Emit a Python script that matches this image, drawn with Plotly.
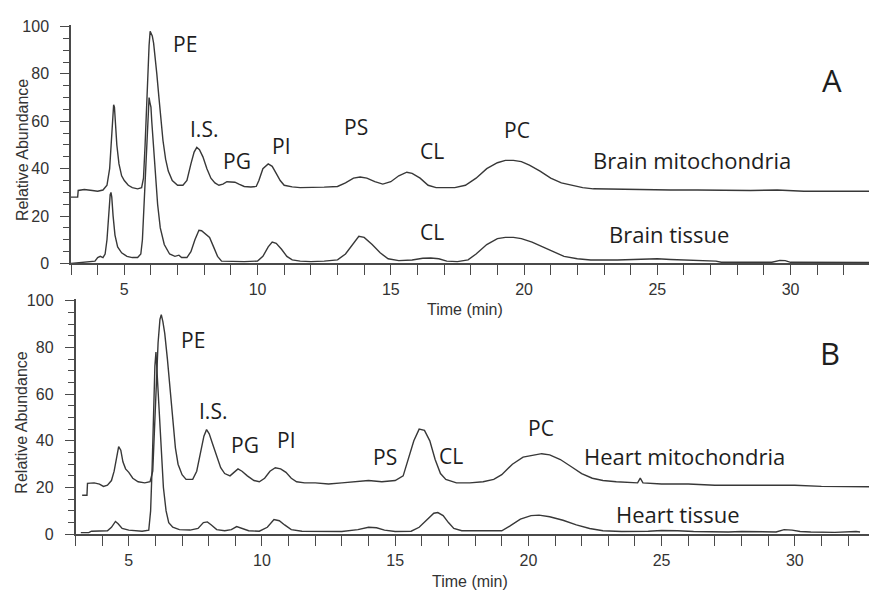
import plotly.graph_objects as go

# ---------------- data ----------------
brain_mito_t = [3.0, 3.25, 3.27, 3.5, 3.8, 4.0, 4.2, 4.35, 4.45, 4.52, 4.57, 4.6, 4.63, 4.66, 4.72, 4.8, 4.9, 5.0, 5.15, 5.3,
                5.5, 5.65, 5.72, 5.78, 5.83, 5.88, 5.93, 5.97, 6.0, 6.05, 6.1, 6.15, 6.22, 6.3, 6.38, 6.45, 6.55, 6.65, 6.8, 7.0,
                7.2, 7.35, 7.5, 7.62, 7.72, 7.82, 7.95, 8.1, 8.25, 8.4, 8.55, 8.7, 8.85, 9.0, 9.15, 9.3, 9.5, 9.75, 9.95, 10.05,
                10.2, 10.4, 10.55, 10.7, 10.85, 11.0, 11.3, 11.6, 12.0, 12.5, 13.0, 13.3, 13.6, 13.85, 14.1, 14.4, 14.7, 15.0, 15.3, 15.6,
                15.8, 16.1, 16.4, 16.7, 17.0, 17.4, 17.8, 18.2, 18.6, 19.0, 19.3, 19.6, 19.9, 20.2, 20.6, 21.0, 21.4, 21.8, 22.2, 22.6,
                23.5, 24.5, 25.5, 26.5, 27.5, 28.5, 29.5, 30.5, 31.5, 32.5, 33.0]
brain_mito_v = [28.0, 28.0, 30.8, 31.2, 30.8, 30.5, 31.0, 33.0, 40.0, 52.0, 62.0, 67.0, 66.0, 60.0, 50.0, 42.0, 37.0, 35.0, 33.0, 32.0,
                31.5, 32.0, 36.0, 50.0, 65.0, 80.0, 92.0, 98.0, 97.0, 96.0, 93.0, 88.0, 80.0, 70.0, 60.0, 52.0, 44.0, 39.0, 35.0, 33.0,
                33.0, 35.0, 42.0, 47.0, 49.0, 48.0, 45.0, 40.0, 36.0, 34.0, 33.0, 33.5, 34.5, 34.5, 34.3, 33.5, 32.5, 32.3, 32.5, 35.0,
                40.0, 42.0, 41.0, 38.0, 35.0, 33.0, 32.3, 32.0, 32.0, 32.2, 32.5, 34.0, 36.0, 36.5, 36.0, 34.5, 33.5, 34.5, 37.0, 38.5,
                38.0, 36.0, 33.0, 32.0, 32.0, 32.0, 33.0, 36.0, 40.0, 42.5, 43.5, 43.5, 43.0, 41.5, 39.0, 36.0, 34.0, 33.0, 32.0, 31.5,
                31.3, 31.2, 31.0, 31.0, 30.8, 30.8, 31.0, 30.5, 30.5, 30.5, 30.5]

brain_tis_t = [3.0, 3.3, 3.6, 3.9, 4.0, 4.1, 4.2, 4.28, 4.35, 4.42, 4.47, 4.5, 4.53, 4.58, 4.65, 4.75, 4.9, 5.1, 5.3, 5.5,
               5.62, 5.68, 5.75, 5.82, 5.88, 5.93, 5.96, 6.0, 6.03, 6.08, 6.15, 6.25, 6.35, 6.5, 6.7, 6.9, 7.05, 7.15, 7.35, 7.5,
               7.65, 7.8, 7.9, 8.05, 8.2, 8.35, 8.5, 8.65, 9.0, 9.5, 10.0, 10.2, 10.4, 10.55, 10.7, 10.9, 11.1, 11.3, 11.6, 12.0,
               12.5, 13.0, 13.3, 13.55, 13.8, 14.0, 14.3, 14.6, 14.9, 15.3, 15.8, 16.2, 16.5, 16.8, 17.1, 17.5, 17.9, 18.2, 18.6, 19.0,
               19.3, 19.6, 19.9, 20.3, 20.7, 21.1, 21.5, 22.0, 22.5, 23.5, 24.5, 25.0, 25.5, 26.5, 27.2, 27.4, 28.5, 29.3, 29.6, 29.8,
               30.0, 31.0, 33.0]
brain_tis_v = [0.0, 0.3, 0.5, 1.0, 2.5, 3.0, 2.5, 4.0, 10.0, 22.0, 29.0, 30.0, 28.0, 20.0, 12.0, 7.0, 4.5, 3.0, 2.5, 2.5,
               4.0, 10.0, 28.0, 45.0, 60.0, 70.0, 68.0, 66.0, 60.0, 52.0, 40.0, 25.0, 15.0, 8.0, 4.0, 3.0, 3.5, 2.5, 2.5, 5.0,
               10.0, 14.0, 13.8, 12.5, 11.0, 7.0, 3.0, 1.0, 0.8, 0.8, 1.0, 3.0, 7.0, 9.0, 8.5, 6.0, 3.0, 1.5, 1.0, 0.8,
               1.0, 1.5, 4.0, 8.0, 11.5, 11.0, 8.0, 4.5, 2.0, 1.2, 1.5, 2.2, 2.3, 2.0, 1.0, 0.8, 1.5, 4.0, 8.0, 10.5,
               11.0, 11.0, 10.5, 9.0, 7.0, 5.0, 3.0, 2.0, 1.5, 1.5, 2.0, 2.0, 1.7, 1.3, 1.0, 0.5, 0.5, 0.5, 1.3, 1.2,
               0.5, 0.4, 0.4]

heart_mito_t = [3.25, 3.43, 3.45, 3.7, 3.9, 4.05, 4.2, 4.35, 4.45, 4.55, 4.62, 4.7, 4.78, 4.88, 5.0, 5.15, 5.35, 5.6, 5.8, 5.9,
                5.97, 6.03, 6.1, 6.17, 6.22, 6.28, 6.35, 6.45, 6.55, 6.65, 6.75, 6.85, 7.0, 7.15, 7.4, 7.55, 7.7, 7.82, 7.92, 8.02,
                8.15, 8.3, 8.45, 8.6, 8.8, 8.95, 9.1, 9.25, 9.45, 9.7, 9.9, 10.1, 10.3, 10.5, 10.7, 10.9, 11.1, 11.3, 11.6, 12.0,
                12.5, 13.0, 13.5, 14.0, 14.5, 15.0, 15.3, 15.5, 15.7, 15.9, 16.1, 16.3, 16.5, 16.7, 16.9, 17.3, 17.8, 18.3, 18.7, 19.0,
                19.4, 19.8, 20.2, 20.5, 20.8, 21.2, 21.6, 22.0, 22.4, 22.8, 23.3, 23.8, 24.1, 24.2, 24.3, 25.0, 26.0, 27.0, 28.0, 29.0,
                30.0, 31.0, 32.0, 33.0]
heart_mito_v = [16.7, 16.7, 21.8, 22.0, 21.5, 20.5, 21.0, 23.0, 27.0, 34.0, 37.5, 36.0, 31.0, 28.0, 26.5, 24.0, 22.5, 22.0, 22.5, 27.0,
                45.0, 65.0, 82.0, 92.0, 94.0, 91.0, 86.0, 75.0, 62.0, 48.0, 37.0, 30.0, 25.5, 23.5, 23.5, 27.0, 35.0, 42.0, 44.8, 43.0,
                38.5, 33.0, 28.5, 26.0, 25.0, 26.5, 28.0, 27.0, 25.0, 23.0, 22.5, 24.0, 27.0, 28.5, 28.0, 26.5, 24.0, 22.5, 22.0, 22.0,
                21.5, 22.0, 22.5, 23.0, 22.5, 23.0, 25.0, 32.0, 40.0, 45.0, 44.5, 40.0, 32.0, 26.0, 23.5, 22.0, 22.0, 22.5, 23.5, 25.5,
                30.0, 33.0, 34.0, 34.5, 34.0, 32.0, 29.0, 26.0, 24.0, 23.0, 22.5, 22.0, 22.0, 24.0, 22.0, 21.5, 21.5, 21.0, 21.0, 21.0,
                21.0, 20.5, 20.5, 20.3]

heart_tis_t = [3.2, 3.5, 3.6, 4.0, 4.2, 4.35, 4.5, 4.6, 4.75, 5.0, 5.5, 5.75, 5.82, 5.88, 5.93, 5.98, 6.02, 6.06, 6.1, 6.15,
               6.22, 6.3, 6.4, 6.5, 6.65, 6.9, 7.3, 7.6, 7.8, 7.95, 8.1, 8.3, 8.6, 8.85, 9.05, 9.25, 9.5, 9.9, 10.2, 10.45,
               10.65, 10.85, 11.1, 11.5, 12.0, 13.0, 13.6, 14.0, 14.3, 14.6, 15.0, 15.6, 15.9, 16.2, 16.45, 16.6, 16.8, 17.0, 17.2, 17.5,
               18.5, 19.0, 19.3, 19.7, 20.1, 20.4, 20.8, 21.3, 21.8, 22.3, 22.8, 23.5, 24.5, 25.0, 25.6, 26.2, 27.5, 28.0, 29.3, 29.6,
               29.9, 30.2, 30.6, 31.5, 32.3, 32.45]
heart_tis_v = [0.7, 0.7, 1.3, 1.3, 1.5, 3.0, 5.5, 4.5, 2.5, 1.8, 1.3, 1.8, 10.0, 30.0, 55.0, 72.0, 78.0, 70.0, 62.0, 50.0,
               35.0, 20.0, 10.0, 5.0, 3.0, 2.0, 1.8, 2.5, 5.0, 5.3, 4.0, 2.0, 1.5, 2.0, 3.3, 2.5, 1.5, 1.3, 3.0, 6.3,
               5.8, 4.0, 2.0, 1.3, 1.2, 1.2, 2.0, 3.0, 2.8, 1.8, 1.2, 1.3, 3.0, 6.5, 9.0, 9.3, 8.0, 5.0, 2.5, 1.5,
               1.3, 1.5, 3.5, 6.5, 8.0, 8.2, 7.5, 6.0, 4.0, 2.5, 1.5, 1.2, 1.3, 1.6, 1.5, 1.2, 1.0, 1.2, 1.0, 2.0,
               1.8, 1.2, 1.0, 0.8, 1.2, 1.0]

y_tick_vals = [0, 20, 40, 60, 80, 100]
x_tick_vals = [5, 10, 15, 20, 25, 30]

# ---------------- figure ----------------
W, H = 869, 601
def px(x):
    return x / W
def py(y):
    return 1 - y / H

LINE = "#383838"
AXC = "#4a4a4a"
TXT = "#1e1e1e"

fig = go.Figure()
for t, v, ax in [(brain_mito_t, brain_mito_v, ("x", "y")), (brain_tis_t, brain_tis_v, ("x", "y")),
                 (heart_mito_t, heart_mito_v, ("x2", "y2")), (heart_tis_t, heart_tis_v, ("x2", "y2"))]:
    fig.add_trace(go.Scatter(x=t, y=v, mode="lines", xaxis=ax[0], yaxis=ax[1],
                             line=dict(color=LINE, width=1.4), showlegend=False, hoverinfo="skip"))

tickfont = dict(family="Liberation Sans, Arial, sans-serif", size=16, color="#333333")
def xax(domain, rng, anchor):
    return dict(domain=domain, range=rng, anchor=anchor, showgrid=False, zeroline=False,
                showline=True, linecolor=AXC, linewidth=1.5, ticks="outside", ticklen=10, tickwidth=1.3,
                tickcolor=AXC, tickvals=x_tick_vals, tickfont=tickfont, ticklabelstandoff=1,
                minor=dict(dtick=1, tick0=0, ticks="outside", ticklen=10, tickwidth=1.3, tickcolor=AXC, showgrid=False))
def yax(domain, rng, anchor):
    return dict(domain=domain, range=rng, anchor=anchor, showgrid=False, zeroline=False,
                showline=True, linecolor=AXC, linewidth=1.5, ticks="outside", ticklen=9, tickwidth=1.3,
                tickcolor=AXC, tickvals=y_tick_vals, tickfont=tickfont, ticklabelstandoff=8,
                minor=dict(dtick=5, tick0=0, ticks="outside", ticklen=6, tickwidth=1.3, tickcolor=AXC, showgrid=False))

fig.update_layout(
    width=W, height=H, autosize=False,
    margin=dict(l=0, r=0, t=0, b=0, pad=0),
    paper_bgcolor="white", plot_bgcolor="white",
    xaxis=xax([px(71), 1.0], [3, 3 + (W - 71) / 26.65], "y"),
    yaxis=yax([py(263.5), py(18)], [0, (263.5 - 18) / 2.435], "x"),
    xaxis2=xax([px(75.5), 1.0], [3, 3 + (W - 75.5) / 26.64], "y2"),
    yaxis2=yax([py(541.7), py(300)], [0, (541.7 - 300) / 2.4], "x2"),
)

short_labels = [
    ("PE", 185, 38), ("I.S.", 204, 125), ("PG", 237, 158), ("PI", 281, 143),
    ("PS", 356, 123), ("CL", 432, 148), ("PC", 517, 126), ("CL", 432, 231),
    ("PE", 193, 342), ("I.S.", 213, 415), ("PG", 245, 450), ("PI", 286, 445),
    ("PS", 385, 462), ("CL", 451, 461), ("PC", 541, 433),
]
long_labels = [
    ("Brain mitochondria", 692, 157), ("Brain tissue", 669, 233),
    ("Heart mitochondria", 684, 461), ("Heart tissue", 678, 521),
]
for text, x, y in short_labels:
    fig.add_annotation(text=text, x=px(x), y=py(y), xref="paper", yref="paper", showarrow=False,
                       font=dict(family="Open Sans, sans-serif", size=21, color=TXT),
                       xanchor="center", yanchor="middle")
for text, x, y in long_labels:
    fig.add_annotation(text=text, x=px(x), y=py(y), xref="paper", yref="paper", showarrow=False,
                       font=dict(family="Open Sans, sans-serif", size=22, color=TXT),
                       xanchor="center", yanchor="middle")
for text, x, y in [("A", 832, 75), ("B", 830, 355)]:
    fig.add_annotation(text=text, x=px(x), y=py(y), xref="paper", yref="paper", showarrow=False,
                       font=dict(family="Open Sans, sans-serif", size=31, color=TXT),
                       xanchor="center", yanchor="middle")

title_font = dict(family="Liberation Sans, Arial, sans-serif", size=16, color="#333333")
for x, y in [(22, 147), (22, 427)]:
    fig.add_annotation(text="Relative Abundance", x=px(x), y=py(y), xref="paper", yref="paper",
                       showarrow=False, textangle=-90, font=title_font, xanchor="center", yanchor="middle")
for x, y in [(465, 311), (470, 590)]:
    fig.add_annotation(text="Time (min)", x=px(x), y=py(y), xref="paper", yref="paper",
                       showarrow=False, font=title_font, xanchor="center", yanchor="middle")

fig.write_html("out.html")
